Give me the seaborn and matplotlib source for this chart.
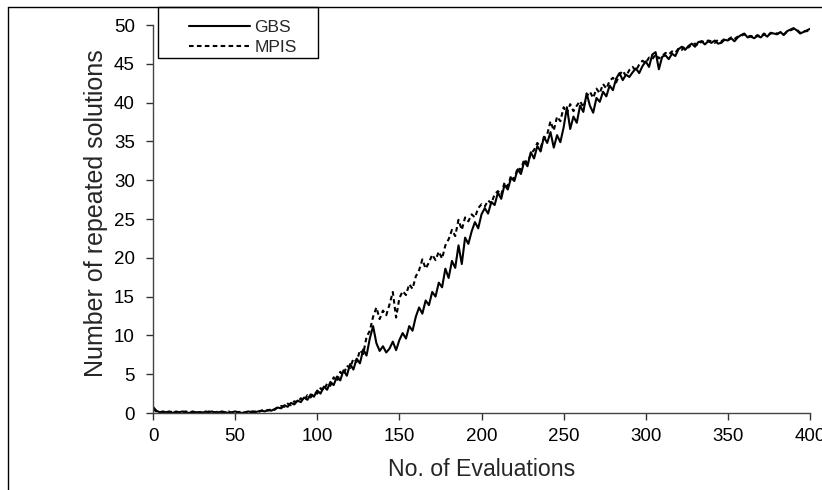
import numpy as np
import pandas as pd
import seaborn as sns
import matplotlib
matplotlib.use("Agg")
from matplotlib import pyplot as plt
from matplotlib.lines import Line2D
from matplotlib.patches import Rectangle

evals = list(range(0, 402, 2))

gbs = [0.8, 0.3, 0.1, 0.2, 0.1, 0.2, 0.0, 0.2, 0.1, 0.2,
       0.1, 0.0, 0.2, 0.1, 0.1, 0.0, 0.2, 0.1, 0.2, 0.0,
       0.1, 0.2, 0.1, 0.0, 0.1, 0.2, 0.1, 0.0, 0.1, 0.2,
       0.1, 0.1, 0.2, 0.3, 0.2, 0.4, 0.3, 0.5, 0.7, 0.6,
       1.0, 0.8, 1.3, 1.1, 1.6, 1.4, 2.0, 1.7, 2.4, 2.1,
       2.9, 2.5, 3.4, 3.0, 4.0, 3.6, 4.7, 4.2, 5.5, 4.8,
       6.3, 5.6, 7.0, 6.4, 8.2, 7.4, 9.6, 11.2, 9.0, 8.0,
       8.6, 7.8, 8.3, 9.2, 8.1, 9.4, 10.3, 9.6, 11.2, 10.6,
       12.4, 13.6, 12.8, 14.5, 13.9, 15.6, 15.0, 16.8, 16.2, 18.6,
       17.4, 19.6, 18.7, 21.6, 19.2, 22.6, 21.8, 23.4, 24.6, 23.8,
       25.6, 26.4, 25.7, 27.2, 26.8, 28.4, 27.6, 29.4, 28.8, 30.3,
       29.9, 31.4, 30.8, 32.4, 31.8, 33.6, 32.8, 34.4, 33.7, 35.6,
       34.8, 36.2, 34.2, 35.8, 34.9, 36.8, 39.4, 36.6, 38.2, 37.4,
       39.6, 38.8, 41.2, 39.6, 38.7, 40.6, 40.1, 41.4, 40.8, 42.2,
       41.6, 43.1, 43.8, 42.9, 43.6, 43.3, 43.9, 44.4, 43.8, 44.7,
       45.3, 44.6, 46.2, 46.5, 44.3, 45.9, 46.1, 45.6, 46.3, 46.0,
       46.9, 47.2, 46.8, 47.3, 47.6, 47.2, 47.8, 47.9, 47.5, 47.9,
       47.7, 48.0, 47.6, 47.7, 48.1, 48.0, 48.3, 47.9, 48.4, 48.7,
       48.9, 48.4, 48.5, 48.3, 48.6, 48.4, 48.8, 48.5, 49.0, 48.9,
       48.8, 49.1, 48.7, 49.2, 49.4, 49.6, 49.3, 48.9, 49.1, 49.3,
       49.5]

mpis = [0.5, 0.2, 0.0, 0.1, 0.2, 0.1, 0.2, 0.0, 0.1, 0.1,
        0.2, 0.1, 0.0, 0.2, 0.1, 0.1, 0.0, 0.2, 0.1, 0.1,
        0.2, 0.0, 0.1, 0.2, 0.0, 0.1, 0.1, 0.2, 0.0, 0.1,
        0.2, 0.2, 0.1, 0.3, 0.4, 0.3, 0.5, 0.4, 0.8, 0.9,
        0.8, 1.2, 1.0, 1.5, 1.4, 1.9, 1.6, 2.3, 2.0, 2.7,
        2.5, 3.2, 2.9, 3.8, 3.5, 4.6, 4.1, 5.3, 4.9, 6.1,
        5.8, 7.0, 6.6, 8.1, 7.6, 9.8, 10.6, 12.4, 13.6, 12.1,
        13.2, 12.6, 14.0, 15.6, 12.3, 14.8, 15.7, 15.2, 16.6, 16.0,
        17.6, 18.4, 19.8, 18.6, 19.4, 20.4, 19.7, 20.8, 19.9, 21.6,
        22.4, 23.6, 22.8, 24.9, 23.6, 25.2, 24.7, 25.6, 25.2, 26.4,
        26.9, 26.6, 27.4, 27.0, 28.2, 28.6, 28.1, 29.7, 29.2, 30.6,
        30.1, 31.6, 31.3, 32.7, 32.2, 33.4, 33.9, 34.8, 34.2, 35.4,
        35.9, 37.6, 36.4, 38.2, 37.6, 39.4, 38.6, 39.8, 38.9, 39.6,
        40.2, 39.4, 40.8, 41.4, 40.6, 41.8, 41.2, 42.4, 41.8, 42.8,
        43.2, 42.6, 43.6, 44.1, 43.4, 44.2, 44.6, 44.1, 44.9, 45.4,
        45.1, 45.8, 45.6, 46.2, 45.7, 46.0, 46.4, 46.2, 46.6, 46.4,
        47.0, 46.8, 47.3, 47.1, 47.5, 47.6, 47.4, 47.9, 47.8, 48.0,
        47.9, 47.7, 48.1, 47.9, 48.2, 48.1, 48.4, 48.2, 48.5, 48.6,
        48.8, 48.5, 48.6, 48.4, 48.7, 48.5, 48.9, 48.6, 48.9, 49.0,
        48.9, 49.0, 48.8, 49.1, 49.3, 49.5, 49.4, 49.0, 49.2, 49.2,
        49.4]

methods = ["GBS", "MPIS"]

df = pd.DataFrame({
    "evals": evals * 2,
    "repeated": gbs + mpis,
    "method": ["GBS"] * len(evals) + ["MPIS"] * len(evals),
})

sns.set_style("ticks")
plt.rcParams["font.family"] = ["Liberation Sans", "DejaVu Sans"]

fig = plt.figure(figsize=(8.22, 4.9), dpi=100)
ax = fig.add_axes([153 / 822, 1 - 413 / 490, 657 / 822, 388 / 490])

sns.lineplot(data=df, x="evals", y="repeated", hue="method", style="method",
             palette={"GBS": "black", "MPIS": "black"},
             dashes={"GBS": "", "MPIS": (2.2, 1.6)},
             linewidth=1.5, ax=ax, legend=False)

ax.set_xlim(0, 400)
ax.set_ylim(0, 50)
ax.set_xticks(range(0, 401, 50))
ax.set_yticks(range(0, 51, 5))
sns.despine(ax=ax)
for s in ["left", "bottom"]:
    ax.spines[s].set_color("#444444")
    ax.spines[s].set_linewidth(1.0)
ax.tick_params(axis="both", direction="out", length=5, width=1, color="#333333",
               labelsize=13.5, labelcolor="black")
ax.tick_params(axis="y", pad=8)
ax.tick_params(axis="x", pad=6)

ax.set_xlabel("No. of Evaluations", fontsize=16.7)
ax.set_ylabel("Number of repeated solutions", fontsize=18)
ax.xaxis.set_label_coords(0.5, -0.115)
ax.yaxis.set_label_coords(-0.069, 0.515)

# legend box drawn by hand, anchored to the top border
fig.patches.append(Rectangle((158 / 822, 1 - 58 / 490), 160 / 822, 51 / 490,
                             transform=fig.transFigure, fill=False,
                             edgecolor="black", linewidth=1.0))
handles = [Line2D([], [], color="black", linewidth=1.5),
           Line2D([], [], color="black", linewidth=1.5, dashes=(2.2, 1.6))]
fig.legend(handles, methods, loc="upper left",
           bbox_to_anchor=(177 / 822, 1 - 8 / 490), frameon=False,
           fontsize=12.5, handlelength=3.5, handletextpad=0.25,
           labelspacing=0.25, borderpad=0.2)

# outer frame (left and top edges visible in the original)
fig.add_artist(Line2D([8 / 822, 8 / 822], [0, 1 - 7 / 490], color="black",
                      linewidth=1.0, transform=fig.transFigure))
fig.add_artist(Line2D([8 / 822, 1], [1 - 7 / 490, 1 - 7 / 490], color="black",
                      linewidth=1.0, transform=fig.transFigure))

plt.savefig("out.png", dpi=100)
